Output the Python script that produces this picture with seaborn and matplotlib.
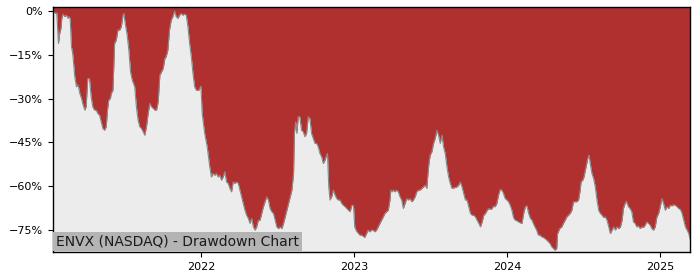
import matplotlib
matplotlib.use("Agg")
import matplotlib.pyplot as plt
import matplotlib.dates as mdates
from matplotlib.ticker import FuncFormatter
import seaborn as sns
import pandas as pd

TITLE = "ENVX (NASDAQ) - Drawdown Chart"

days_2021 = ["01-13", "01-15", "01-19", "01-22", "01-26", "01-29", "02-01", "02-03", "02-06", "02-10",
             "02-14", "02-18", "02-20", "02-23", "02-26", "03-01", "03-06", "03-10", "03-14", "03-18",
             "03-22", "03-26", "03-30", "04-02", "04-06", "04-10", "04-14", "04-18", "04-22", "04-26",
             "04-30", "05-04", "05-08", "05-12", "05-16", "05-20", "05-23", "05-26", "05-30", "06-01",
             "06-05", "06-09", "06-13", "06-17", "06-21", "06-25", "06-29", "07-01", "07-05", "07-09",
             "07-13", "07-17", "07-21", "07-27", "07-31", "08-04", "08-08", "08-12", "08-16", "08-20",
             "08-24", "08-28", "09-01", "09-05", "09-09", "09-13", "09-17", "09-21", "09-25", "09-29",
             "10-03", "10-07", "10-10", "10-14", "10-18", "10-22", "10-26", "10-30", "11-03", "11-07",
             "11-11", "11-15", "11-19", "11-23", "11-27", "12-01", "12-05", "12-09", "12-13", "12-17",
             "12-21", "12-27"]
dd_2021 = [0.0, -0.2, -0.8, -0.6, -11.1, -7.6, -5.9, -2.5, -1.0, -1.9,
           -1.4, -2.5, -1.9, -2.5, -12.2, -14.5, -22.5, -25.9, -25.3, -28.2,
           -29.9, -32.2, -33.9, -32.8, -23.1, -23.1, -29.3, -32.8, -33.9, -33.9,
           -35.1, -35.6, -37.9, -40.2, -40.8, -39.6, -33.9, -30.5, -29.9, -28.2,
           -27.1, -11.1, -9.9, -6.5, -6.5, -5.4, -1.4, -0.8, -4.8, -8.2,
           -13.4, -20.8, -23.6, -25.9, -32.8, -37.3, -39.6, -40.2, -41.3, -42.5,
           -39.6, -35.1, -31.6, -32.8, -33.3, -33.9, -33.9, -31.1, -21.9, -20.8,
           -19.6, -16.2, -15.6, -13.4, -6.5, -3.1, -1.9, 0.0, -1.9, -2.5,
           -1.4, -0.8, -1.4, -1.0, -1.4, -5.4, -11.1, -15.6, -21.4, -25.9,
           -27.1, -27.1]

days_2022 = ["01-01", "01-04", "01-10", "01-16", "01-22", "01-26", "01-30", "02-03", "02-07", "02-11",
             "02-15", "02-19", "02-23", "02-27", "03-03", "03-07", "03-11", "03-15", "03-19", "03-23",
             "03-27", "03-31", "04-04", "04-08", "04-12", "04-16", "04-20", "04-24", "04-28", "05-02",
             "05-06", "05-10", "05-14", "05-18", "05-22", "05-26", "05-30", "06-03", "06-07", "06-11",
             "06-15", "06-19", "06-23", "06-27", "07-01", "07-05", "07-09", "07-13", "07-17", "07-21",
             "07-25", "07-29", "08-02", "08-06", "08-10", "08-12", "08-15", "08-18", "08-21", "08-25",
             "08-29", "09-02", "09-06", "09-10", "09-14", "09-18", "09-22", "09-26", "09-30", "10-04",
             "10-08", "10-12", "10-16", "10-20", "10-24", "10-28", "10-30", "11-02", "11-05", "11-09",
             "11-13", "11-17", "11-21", "11-25", "11-29", "12-03", "12-07", "12-11", "12-15", "12-19",
             "12-23", "12-27", "12-31"]
dd_2022 = [-25.7, -35.1, -41.9, -46.5, -53.3, -56.8, -55.6, -56.2, -55.6, -56.8,
           -56.2, -57.9, -56.8, -55.0, -58.5, -59.0, -60.7, -61.9, -58.5, -59.0,
           -58.5, -59.0, -61.3, -63.6, -65.9, -68.2, -69.9, -71.0, -72.7, -71.0,
           -73.9, -75.0, -73.9, -71.6, -71.6, -69.3, -67.0, -65.3, -63.6, -64.7,
           -67.6, -68.7, -69.3, -71.6, -73.9, -74.5, -73.9, -74.5, -72.7, -70.5,
           -68.2, -65.9, -63.6, -61.3, -55.6, -41.9, -37.9, -41.9, -36.2, -36.2,
           -40.8, -41.3, -43.0, -41.9, -36.2, -36.8, -41.9, -43.6, -45.3, -45.3,
           -46.5, -48.8, -49.9, -52.2, -51.0, -49.3, -48.8, -60.2, -64.7, -63.6,
           -61.3, -63.0, -64.2, -64.7, -64.7, -65.9, -66.5, -67.0, -67.6, -68.2,
           -68.7, -66.5, -66.5]

days_2023 = ["01-03", "01-07", "01-11", "01-15", "01-19", "01-23", "01-27", "01-31", "02-04", "02-08",
             "02-12", "02-16", "02-20", "02-24", "02-28", "03-04", "03-08", "03-12", "03-16", "03-20",
             "03-24", "03-28", "03-30", "04-02", "04-05", "04-09", "04-13", "04-17", "04-21", "04-25",
             "04-29", "05-03", "05-07", "05-11", "05-15", "05-19", "05-23", "05-27", "05-31", "06-04",
             "06-08", "06-12", "06-16", "06-20", "06-24", "06-26", "06-29", "07-02", "07-06", "07-10",
             "07-14", "07-18", "07-22", "07-26", "07-30", "08-03", "08-07", "08-11", "08-15", "08-19",
             "08-23", "08-31", "09-04", "09-08", "09-12", "09-16", "09-20", "09-24", "09-28", "10-02",
             "10-06", "10-10", "10-14", "10-18", "10-22", "10-26", "10-30", "11-03", "11-07", "11-11",
             "11-15", "11-19", "11-23", "11-27", "11-30", "12-04", "12-08", "12-12", "12-16", "12-20",
             "12-24", "12-28"]
dd_2023 = [-73.9, -75.3, -76.0, -76.7, -76.7, -77.1, -77.5, -76.2, -75.0, -75.6,
           -75.0, -75.0, -75.6, -75.0, -73.9, -72.7, -71.6, -70.5, -69.3, -68.7,
           -68.2, -64.7, -61.3, -61.9, -61.3, -61.9, -61.3, -61.9, -63.6, -64.7,
           -67.6, -65.9, -64.2, -64.7, -64.2, -65.3, -64.7, -63.6, -61.9, -61.3,
           -61.3, -60.7, -60.2, -59.6, -60.7, -56.8, -52.2, -49.3, -48.2, -45.3,
           -43.6, -40.8, -42.5, -45.3, -42.5, -46.5, -48.8, -53.3, -56.8, -59.0,
           -60.7, -60.4, -60.2, -59.6, -58.5, -60.2, -62.5, -64.7, -64.7, -67.0,
           -69.3, -69.9, -69.9, -70.5, -71.6, -72.7, -73.9, -72.2, -69.9, -69.3,
           -68.2, -67.6, -67.9, -67.6, -66.8, -67.0, -65.9, -63.0, -61.1, -61.3,
           -62.5, -64.2]

days_2024 = ["01-01", "01-05", "01-09", "01-13", "01-17", "01-21", "01-25", "01-29", "02-02", "02-06",
             "02-10", "02-14", "02-18", "02-22", "02-26", "03-01", "03-04", "03-08", "03-12", "03-16",
             "03-20", "03-24", "03-28", "04-01", "04-05", "04-09", "04-13", "04-17", "04-21", "04-25",
             "04-29", "05-01", "05-06", "05-11", "05-15", "05-19", "05-23", "05-27", "05-31", "06-04",
             "06-08", "06-12", "06-16", "06-20", "06-24", "06-26", "06-30", "07-03", "07-08", "07-12",
             "07-15", "07-18", "07-22", "07-26", "07-30", "08-03", "08-07", "08-11", "08-15", "08-19",
             "08-23", "08-27", "08-31", "09-04", "09-08", "09-12", "09-16", "09-20", "09-24", "09-28",
             "10-02", "10-05", "10-09", "10-12", "10-17", "10-21", "10-25", "10-29", "11-02", "11-06",
             "11-10", "11-14", "11-18", "11-22", "11-26", "11-30", "12-04", "12-08", "12-12", "12-16",
             "12-20", "12-24", "12-28"]
dd_2024 = [-64.7, -65.3, -66.5, -68.2, -70.8, -71.6, -71.8, -72.2, -72.5, -72.7,
           -69.3, -67.0, -66.7, -69.3, -71.0, -71.6, -72.7, -73.9, -75.0, -76.7,
           -76.7, -77.3, -77.5, -77.9, -78.4, -79.0, -79.6, -80.7, -81.3, -81.9,
           -81.3, -76.2, -74.5, -73.9, -72.7, -71.6, -70.5, -69.9, -69.3, -68.2,
           -65.3, -65.3, -65.3, -64.7, -61.3, -58.5, -57.9, -56.8, -53.3, -50.5,
           -49.3, -52.2, -55.6, -57.3, -60.2, -64.7, -68.2, -69.3, -69.9, -70.7,
           -70.5, -71.6, -73.9, -76.2, -75.0, -73.9, -75.0, -73.9, -74.5, -73.9,
           -71.6, -67.6, -65.9, -65.1, -67.0, -67.6, -68.7, -72.2, -72.7, -73.9,
           -73.6, -74.5, -73.9, -74.1, -73.3, -72.2, -72.7, -73.3, -74.5, -75.0,
           -73.9, -70.5, -69.3]

days_2025 = ["01-01", "01-05", "01-09", "01-13", "01-17", "01-21", "01-25", "01-29", "02-02", "02-06",
             "02-10", "02-14", "02-18", "02-22", "02-26", "03-02", "03-06", "03-10", "03-13"]
dd_2025 = [-67.0, -64.2, -65.9, -68.2, -67.0, -67.6, -66.5, -66.7, -66.3, -66.5,
           -67.0, -67.6, -67.9, -69.3, -71.6, -73.9, -75.0, -76.2, -77.9]

YTICKS = [0, -15, -30, -45, -60, -75]

parts = [(2021, days_2021, dd_2021), (2022, days_2022, dd_2022), (2023, days_2023, dd_2023),
         (2024, days_2024, dd_2024), (2025, days_2025, dd_2025)]
dates, values = [], []
for yr, days, vals in parts:
    dates += [f"{yr}-{d}" for d in days]
    values += vals
df = pd.DataFrame({"date": pd.to_datetime(dates), "drawdown": values})

RED = "#b03030"
BG = "#ececec"
Y_LOW, Y_HIGH = -82.5, 1.4

fig = plt.figure(figsize=(7, 2.8), dpi=100)
ax = fig.add_axes([0.0757, 0.1, 0.91, 0.875])
ax.set_facecolor(RED)
ax.fill_between(df["date"], df["drawdown"], Y_LOW - 5, color=BG, linewidth=0, zorder=1)
sns.lineplot(data=df, x="date", y="drawdown", ax=ax, color="#8a8a8a", linewidth=0.8, zorder=2)

ax.set_xlim(df["date"].iloc[0], df["date"].iloc[-1])
ax.set_ylim(Y_LOW, Y_HIGH)
ax.set_yticks(YTICKS)
ax.yaxis.set_major_formatter(FuncFormatter(lambda v, p: f"{int(v)}%".replace("-", "\u2212")))
ax.xaxis.set_major_locator(mdates.YearLocator())
ax.xaxis.set_major_formatter(mdates.DateFormatter("%Y"))
ax.tick_params(labelsize=8, length=3.5, width=0.8, colors="black")
ax.set_xlabel("")
ax.set_ylabel("")
for s in ax.spines.values():
    s.set_color("black")
    s.set_linewidth(1.0)

ax.annotate(TITLE, xy=(0, 0), xycoords="axes fraction", xytext=(2, 2.5), textcoords="offset points",
            ha="left", va="bottom", fontsize=10, color="#1a1a1a", zorder=5,
            bbox=dict(facecolor="#b4b4b4", edgecolor="none", pad=2))

fig.savefig("out.png", dpi=100)
